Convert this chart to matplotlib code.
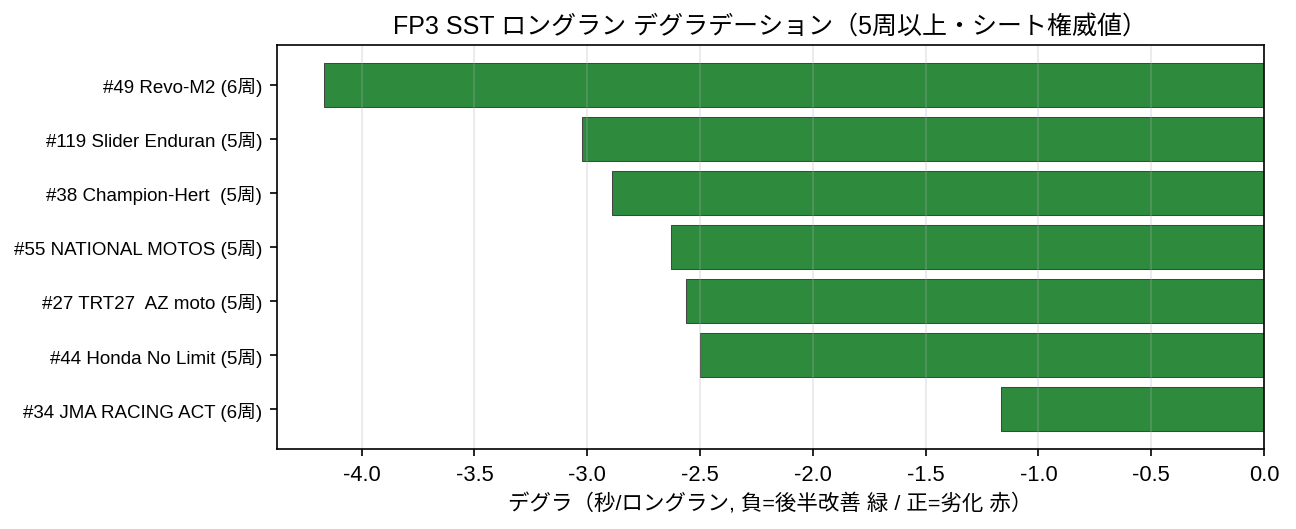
import matplotlib
matplotlib.use("Agg")
import matplotlib.pyplot as plt

plt.rcParams['font.family'] = ['Liberation Sans', 'Noto Sans CJK JP', 'DejaVu Sans']
plt.rcParams['axes.unicode_minus'] = False

# FP3 SST long-run degradation (sec per long run)
riders = [
    "#49 Revo-M2 (6周)",
    "#119 Slider Enduran (5周)",
    "#38 Champion-Hert  (5周)",
    "#55 NATIONAL MOTOS (5周)",
    "#27 TRT27  AZ moto (5周)",
    "#44 Honda No Limit (5周)",
    "#34 JMA RACING ACT (6周)",
]
degra = [-4.167, -3.024, -2.891, -2.630, -2.563, -2.500, -1.168]

colors = ['#2e8b3e' if v < 0 else '#c0392b' for v in degra]

fig, ax = plt.subplots(figsize=(8.64, 3.533), dpi=150)
fig.subplots_adjust(left=0.2137, right=0.9753, top=0.9132, bottom=0.1509)

ax.barh(range(len(riders)), degra, color=colors, edgecolor='#444444', linewidth=0.5)
ax.set_yticks(range(len(riders)))
ax.set_yticklabels(riders, fontsize=9)
ax.invert_yaxis()

ax.set_xlim(min(degra) * 1.05, 0)
ax.tick_params(axis='x', labelsize=10.5)
ax.grid(axis='x', alpha=0.3)

ax.set_title("FP3 SST ロングラン デグラデーション（5周以上・シート権威値）", fontsize=12)
ax.set_xlabel("デグラ（秒/ロングラン, 負=後半改善 緑 / 正=劣化 赤）", fontsize=10.3)

fig.savefig("out.png", dpi=150)
